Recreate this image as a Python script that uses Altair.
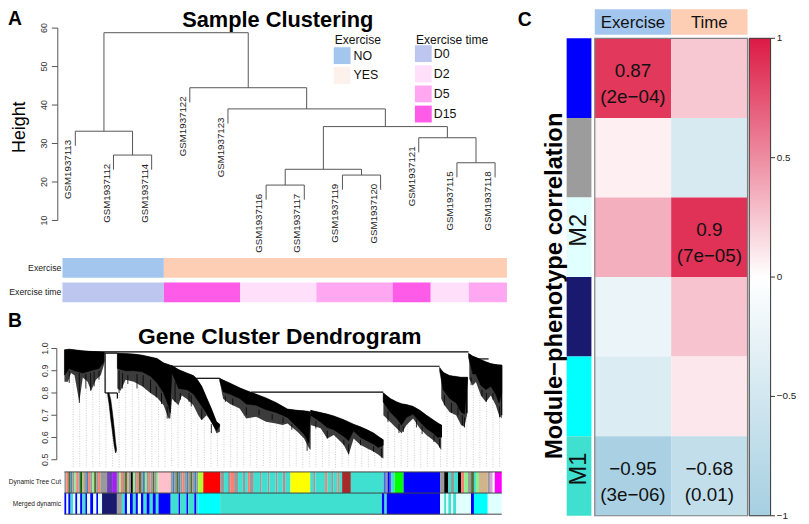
import altair as alt
import numpy as np
import pandas as pd

OFF = 8
FONT = "Liberation Sans"


def R(a, b):
    return [a - OFF, b - OFF]


def V(p):
    return alt.value(p - OFF)


# ================= Panel A : sample clustering =================
sample_names = ["GSM1937113", "GSM1937112", "GSM1937114", "GSM1937122", "GSM1937123",
                "GSM1937116", "GSM1937117", "GSM1937119", "GSM1937120", "GSM1937121",
                "GSM1937115", "GSM1937118"]
exercise = ["NO", "NO", "NO", "YES", "YES", "YES", "YES", "YES", "YES", "YES", "YES", "YES"]
exercise_time = ["D0", "D0", "D0", "D15", "D15", "D2", "D2", "D5", "D5", "D15", "D2", "D5"]
merge_left = ["L1", "L0", "L5", "L7", "M3", "L10", "L9", "M5", "L4", "L3", "M2"]
merge_right = ["L2", "M1", "L6", "L8", "M4", "L11", "M6", "M7", "M8", "M9", "M10"]
merge_height = [27.0, 33.2, 19.2, 21.8, 23.3, 25.0, 31.5, 34.4, 39.0, 44.5, 58.8]
height_ticks = [10, 20, 30, 40, 50, 60]
exercise_levels = ["NO", "YES"]
time_levels = ["D0", "D2", "D5", "D15"]

# ================= Panel B : gene cluster dendrogram =================
# dense cores (gene-order %, top height, lower edge of the dense part)
c1_x = [0.0, 1.1, 2.3, 4.2, 6.0, 7.9, 9.1]
c1_top = [0.994, 0.997, 0.994, 0.990, 0.987, 0.985, 0.983]
c1_bot = [0.88, 0.91, 0.90, 0.89, 0.90, 0.91, 0.94]
c2_x = [9.9, 10.2, 10.6, 11.0, 11.4, 11.7, 11.9]
c2_top = [0.80, 0.80, 0.77, 0.71, 0.64, 0.58, 0.55]
c2_bot = [0.79, 0.75, 0.68, 0.62, 0.56, 0.53, 0.54]
c3_x = [12.1, 14.0, 15.9, 17.8, 19.7, 21.2, 22.7, 23.8, 24.2, 24.6]
c3_top = [0.979, 0.977, 0.975, 0.970, 0.962, 0.955, 0.935, 0.928, 0.925, 0.923]
c3_bot = [0.91, 0.90, 0.90, 0.895, 0.875, 0.845, 0.80, 0.74, 0.71, 0.90]
c4_x = [24.6, 26.1, 28.0, 29.5, 30.2, 31.4, 32.5, 33.6, 34.8, 35.5]
c4_top = [0.923, 0.905, 0.890, 0.878, 0.866, 0.830, 0.780, 0.730, 0.670, 0.660]
c4_bot = [0.890, 0.820, 0.815, 0.795, 0.775, 0.740, 0.710, 0.670, 0.630, 0.650]
c5_x = [35.5, 36.3, 37.8, 40.1, 41.6, 43.8, 46.1, 48.4, 49.9, 51.0, 53.3, 54.8, 55.9, 56.3]
c5_top = [0.866, 0.858, 0.845, 0.823, 0.811, 0.795, 0.778, 0.757, 0.740, 0.728, 0.722, 0.720,
          0.717, 0.715]
c5_bot = [0.855, 0.805, 0.795, 0.775, 0.750, 0.745, 0.725, 0.712, 0.700, 0.690, 0.645, 0.615,
          0.575, 0.700]
c6_x = [56.3, 58.6, 60.1, 61.6, 63.9, 65.0, 66.1, 67.7, 69.2, 70.7, 71.8, 72.9]
c6_top = [0.722, 0.712, 0.705, 0.697, 0.680, 0.670, 0.660, 0.648, 0.635, 0.620, 0.605, 0.590]
c6_bot = [0.700, 0.670, 0.645, 0.635, 0.605, 0.585, 0.630, 0.600, 0.585, 0.570, 0.555, 0.565]
c7_x = [72.9, 74.5, 76.0, 77.1, 78.2, 79.7, 81.3, 82.8, 84.3, 85.4, 86.2]
c7_top = [0.801, 0.775, 0.760, 0.752, 0.748, 0.740, 0.722, 0.700, 0.680, 0.665, 0.656]
c7_bot = [0.760, 0.715, 0.685, 0.655, 0.690, 0.705, 0.670, 0.640, 0.620, 0.600, 0.605]
c8_x = [85.8, 86.6, 88.1, 89.6, 90.7, 91.5, 92.2]
c8_top = [0.915, 0.893, 0.878, 0.874, 0.871, 0.871, 0.871]
c8_bot = [0.900, 0.815, 0.775, 0.755, 0.715, 0.705, 0.860]
c9_x = [92.4, 93.4, 94.1, 95.2, 96.4, 97.5, 98.6, 99.4, 100.0]
c9_top = [0.979, 0.965, 0.960, 0.950, 0.940, 0.932, 0.928, 0.925, 0.923]
c9_bot = [0.960, 0.885, 0.885, 0.835, 0.815, 0.830, 0.795, 0.755, 0.800]

# hairy fringe below each cluster (gene-order %, lowest leaf height)
f1_x = [0.0, 0.8, 1.5, 2.3, 3.4, 4.2, 5.3, 6.1, 7.2, 8.3, 9.1]
f1_bot = [0.85, 0.85, 0.89, 0.88, 0.76, 0.87, 0.85, 0.81, 0.86, 0.88, 0.93]
f3_x = [12.1, 12.85, 13.98, 15.87, 17.76, 19.65, 21.17, 22.68, 23.81, 24.19, 24.57]
f3_bot = [0.82, 0.81, 0.86, 0.85, 0.83, 0.80, 0.78, 0.745, 0.685, 0.685, 0.77]
f4_x = [24.57, 25.32, 26.08, 26.83, 27.97, 29.48, 30.61, 31.37, 32.50, 33.64, 34.77, 35.53]
f4_bot = [0.774, 0.76, 0.745, 0.789, 0.774, 0.745, 0.70, 0.678, 0.70, 0.671, 0.619, 0.626]
f5_x = [35.53, 36.28, 37.79, 40.06, 41.57, 43.84, 46.11, 48.38, 49.89, 51.02, 53.29, 54.80,
        55.93, 56.31]
f5_bot = [0.85, 0.774, 0.752, 0.73, 0.685, 0.693, 0.671, 0.663, 0.656, 0.663, 0.626, 0.596,
          0.552, 0.544]
f6_x = [56.31, 58.58, 60.09, 61.60, 63.87, 65.0, 66.14, 67.65, 69.16, 70.67, 71.81, 72.94]
f6_bot = [0.656, 0.641, 0.596, 0.611, 0.567, 0.522, 0.596, 0.567, 0.552, 0.537, 0.522, 0.505]
f7_x = [72.94, 74.45, 75.96, 77.10, 78.23, 79.74, 81.25, 82.77, 84.28, 85.41, 86.17]
f7_bot = [0.70, 0.671, 0.641, 0.619, 0.656, 0.685, 0.641, 0.611, 0.589, 0.567, 0.544]
f8_x = [86.17, 86.92, 88.06, 89.57, 90.70, 91.46, 92.21]
f8_bot = [0.774, 0.745, 0.715, 0.70, 0.656, 0.648, 0.715]
f9_x = [92.59, 93.35, 94.10, 95.24, 96.37, 97.51, 98.64, 99.39, 100.0]
f9_bot = [0.863, 0.834, 0.849, 0.789, 0.76, 0.789, 0.745, 0.70, 0.685]

spike_x = [1.1, 3.4, 4.9, 6.0, 6.8, 7.9,
           12.5, 13.3, 14.5, 16.6, 18.0, 19.7, 21.0, 22.2, 23.5,
           25.3, 26.5, 28.5, 29.0, 31.4, 33.6,
           36.8, 38.5, 41.6, 44.5, 47.5, 50.0, 52.0, 55.5,
           57.5, 60.1, 63.9, 65.0, 67.7, 70.7, 72.5,
           74.0, 76.5, 77.5, 80.5, 81.8, 84.5, 85.8,
           86.9, 88.5, 90.0, 91.0, 91.5,
           93.0, 95.5, 96.5, 98.0, 99.5]
spike_top = [0.90, 0.89, 0.885, 0.89, 0.895, 0.90,
             0.90, 0.89, 0.88, 0.885, 0.88, 0.86, 0.83, 0.80, 0.74,
             0.85, 0.80, 0.80, 0.79, 0.73, 0.66,
             0.785, 0.775, 0.735, 0.725, 0.705, 0.69, 0.66, 0.59,
             0.675, 0.63, 0.59, 0.57, 0.59, 0.56, 0.55,
             0.72, 0.66, 0.65, 0.68, 0.65, 0.61, 0.595,
             0.79, 0.755, 0.735, 0.70, 0.69,
             0.87, 0.815, 0.80, 0.80, 0.74]
spike_bot = [0.845, 0.755, 0.82, 0.81, 0.83, 0.86,
             0.80, 0.82, 0.84, 0.82, 0.83, 0.80, 0.78, 0.75, 0.685,
             0.76, 0.77, 0.76, 0.74, 0.68, 0.62,
             0.76, 0.745, 0.70, 0.70, 0.68, 0.665, 0.635, 0.54,
             0.64, 0.595, 0.565, 0.525, 0.565, 0.535, 0.51,
             0.67, 0.62, 0.625, 0.645, 0.615, 0.58, 0.555,
             0.745, 0.71, 0.70, 0.655, 0.645,
             0.835, 0.785, 0.76, 0.77, 0.69]

branch_x1 = [3.0, 9.1, 9.3, 9.3, 12.1, 24.6, 30.2, 42.7, 84.3, 86.2, 92.0, 94.5, 100.0, 93.5]
branch_x2 = [92.4, 12.1, 9.3, 12.1, 12.1, 85.8, 35.5, 72.9, 86.2, 86.2, 92.0, 100.0, 100.0, 97.0]
branch_y1 = [0.985, 0.979, 0.979, 0.80, 0.80, 0.920, 0.866, 0.804, 0.655, 0.655, 0.871, 0.925,
             0.925, 0.953]
branch_y2 = [0.985, 0.979, 0.80, 0.80, 0.775, 0.920, 0.866, 0.804, 0.655, 0.60, 0.71, 0.925,
             0.70, 0.953]
b_ticks = [0.5, 0.6, 0.7, 0.8, 0.9, 1.0]

dtc_start = [0.0, 0.45, 0.9, 1.4, 1.8, 2.3, 2.7, 3.2, 3.6, 4.1, 4.5, 5.0, 5.4, 5.9, 6.4, 6.8, 7.3,
             7.7, 8.2, 9.75, 10.9, 12.0, 12.5, 12.9, 13.4, 13.8, 14.3, 14.7, 15.2, 15.65, 16.1,
             16.55, 17.0, 17.5, 17.9, 18.4, 18.8, 19.3, 19.7, 20.2, 20.6, 21.1, 21.5, 24.3, 24.7,
             25.2, 25.6, 26.1, 26.5, 27.0, 27.4, 27.9, 28.3, 28.8, 29.25, 29.7, 30.2, 30.6, 31.75,
             35.6, 36.5, 37.4, 37.9, 38.8, 39.7, 40.8, 41.3, 41.95, 42.4, 43.3, 44.7, 45.1, 46.5,
             46.9, 48.3, 48.75, 49.9, 50.6, 51.7, 56.2, 56.9, 57.4, 59.6, 60.1, 61.0, 61.45, 62.4,
             62.8, 63.5, 65.5, 73.0, 73.5, 73.9, 74.4, 74.8, 75.5, 77.55, 85.9, 86.85, 87.8, 88.4,
             89.1, 90.0, 90.7, 91.4, 92.3, 93.0, 93.65, 94.1, 94.8, 96.8, 97.3, 97.95, 98.4]
dtc_color = ["grey60", "salmon", "darkolivegreen", "steelblue", "grey60", "lightgreen", "salmon",
             "grey60", "darkgreen", "tan", "grey60", "steelblue", "salmon", "grey60", "lightgreen",
             "darkolivegreen", "grey60", "salmon", "grey60", "mediumpurple3", "purple", "grey60",
             "lightgreen", "salmon", "grey60", "darkolivegreen", "tan", "grey60", "black",
             "lightgreen", "grey60", "salmon", "darkolivegreen", "grey60", "steelblue",
             "lightgreen", "grey60", "salmon", "grey60", "darkolivegreen", "grey60", "lightgreen",
             "pink", "grey60", "steelblue", "grey60", "darkolivegreen", "steelblue", "grey60",
             "salmon", "grey60", "steelblue", "grey60", "darkolivegreen", "grey60", "steelblue",
             "grey60", "greenyellow", "red", "grey60", "turquoise", "grey60", "salmon", "grey60",
             "turquoise", "grey60", "turquoise", "salmon", "grey60", "turquoise", "grey60",
             "turquoise", "grey60", "turquoise", "grey60", "turquoise", "grey60", "turquoise",
             "yellow", "turquoise", "grey60", "turquoise", "salmon", "turquoise", "grey60",
             "turquoise", "salmon", "turquoise", "brown", "turquoise", "royalblue", "grey60",
             "blue", "royalblue", "turquoise", "green", "blue", "grey60", "black", "turquoise",
             "grey60", "turquoise", "black", "salmon", "lightgreen", "grey60", "darkolivegreen",
             "turquoise", "lightgreen", "tan", "grey60", "plum", "white", "magenta"]
merged_start = [0.0, 0.45, 0.9, 1.4, 2.0, 2.5, 2.95, 3.6, 4.1, 4.8, 5.2, 5.9, 6.6, 7.3, 7.7, 8.6,
                12.0, 13.15, 13.8, 14.3, 15.0, 15.65, 16.3, 16.8, 17.5, 18.1, 18.8, 19.5, 20.2,
                20.9, 21.5, 24.3, 26.1, 26.5, 27.9, 28.3, 29.7, 30.2, 30.6, 35.6, 72.6, 73.2, 73.7,
                85.9, 86.85, 87.3, 87.8, 88.4, 88.9, 89.6, 92.97, 93.65, 96.8]
merged_color = ["blue", "lightcyan", "blue", "turquoise", "lightcyan", "blue", "lightcyan", "blue",
                "turquoise", "blue", "lightcyan", "blue", "lightcyan", "blue", "lightcyan",
                "midnightblue", "grey", "turquoise", "blue", "lightcyan", "blue", "turquoise",
                "blue", "lightcyan", "blue", "turquoise", "blue", "turquoise", "blue", "turquoise",
                "blue", "turquoise", "blue", "turquoise", "blue", "turquoise", "blue", "turquoise",
                "cyan", "turquoise", "blue", "turquoise", "blue", "lightcyan", "turquoise",
                "lightcyan", "turquoise", "lightcyan", "turquoise", "lightcyan", "blue", "cyan",
                "lightcyan"]
bar_rows = ["Dynamic Tree Cut", "Merged dynamic"]

# ================= Panel C : module-trait heatmap =================
modules = ["blue", "grey", "lightcyan", "midnightblue", "cyan", "turquoise"]
module_tags = ["", "", "M2", "", "", "M1"]
traits = ["Exercise", "Time"]
cor_exercise = [0.87, 0.07, 0.35, -0.22, -0.40, -0.95]
cor_time = [0.24, -0.44, 0.90, 0.26, 0.10, -0.68]
p_exercise = ["2e−04", "", "", "", "", "3e−06"]
p_time = ["", "", "7e−05", "", "", "0.01"]
cb_ticks = [-1, -0.5, 0, 0.5, 1]
cb_labels = ["−1", "−0.5", "0", "0.5", "1"]

# ---------------- styles ----------------
pal_names = ["grey60", "salmon", "darkolivegreen", "steelblue", "lightgreen", "darkgreen", "tan",
             "mediumpurple3", "purple", "black", "pink", "greenyellow", "red", "turquoise",
             "yellow", "brown", "royalblue", "blue", "green", "plum", "white", "magenta",
             "lightcyan", "midnightblue", "grey", "cyan"]
pal_hex = ["#999999", "#fa8072", "#556b2f", "#4682b4", "#90ee90", "#006400", "#d2b48c",
           "#7040b8", "#a020f0", "#000000", "#ffc0cb", "#adff2f", "#ff0000", "#40e0d0",
           "#ffff00", "#a52a2a", "#4169e1", "#0000ff", "#00ff00", "#dda0dd", "#ffffff", "#ff00ff",
           "#e0ffff", "#191970", "#9c9c9c", "#00ffff"]
modpal = alt.Scale(domain=pal_names, range=pal_hex)
HANG = 3.8

layers = []


def txt(text, x, y, size, weight="normal", align="left", baseline="alphabetic", angle=0,
        color="black"):
    return alt.Chart(pd.DataFrame({"t": [text]})).mark_text(
        font=FONT, fontSize=size, fontWeight=weight, align=align, baseline=baseline,
        angle=angle, color=color).encode(text="t:N", x=V(x), y=V(y))


def runs(values):
    out, start = [], 0
    for i in range(1, len(values) + 1):
        if i == len(values) or values[i] != values[start]:
            out.append((start - 0.5, i - 0.5, values[start]))
            start = i
    return out


# ---------------- Panel A ----------------
sAx = alt.Scale(domain=[0, 11], range=R(76, 500))
sAy = alt.Scale(domain=[10, 60], range=R(220, 25.7))

pos, tops, parent = {}, {}, {}
for i in range(len(sample_names)):
    pos[f"L{i}"] = float(i)
for k, (a, b, h) in enumerate(zip(merge_left, merge_right, merge_height), start=1):
    pos[f"M{k}"] = (pos[a] + pos[b]) / 2
    tops[f"M{k}"] = h
    parent[a] = h
    parent[b] = h
for i in range(len(sample_names)):
    tops[f"L{i}"] = parent[f"L{i}"] - HANG
seg = []
for a, b, h in zip(merge_left, merge_right, merge_height):
    seg.append((pos[a], pos[b], h, h))
    seg.append((pos[a], pos[a], h, tops[a]))
    seg.append((pos[b], pos[b], h, tops[b]))
df_seg = pd.DataFrame(seg, columns=["x1", "x2", "y1", "y2"])
layers.append(alt.Chart(df_seg).mark_rule(color="#555555", strokeWidth=1).encode(
    x=alt.X("x1:Q", scale=sAx, axis=None), x2="x2:Q",
    y=alt.Y("y1:Q", scale=sAy, axis=None), y2="y2:Q"))

df_leaf = pd.DataFrame({"x": list(range(len(sample_names))),
                        "y": [tops[f"L{i}"] for i in range(len(sample_names))],
                        "name": sample_names})
layers.append(alt.Chart(df_leaf).mark_text(
    font=FONT, fontSize=9.8, angle=270, align="right", baseline="middle", dx=6, dy=-7,
    color="#222222").encode(
    x=alt.X("x:Q", scale=sAx, axis=None), y=alt.Y("y:Q", scale=sAy, axis=None), text="name:N"))

df_at = pd.DataFrame({"v": height_ticks})
layers.append(alt.Chart(pd.DataFrame({"a": [min(height_ticks)], "b": [max(height_ticks)]}))
              .mark_rule(color="#555555").encode(
    x=V(58.3), y=alt.Y("a:Q", scale=sAy, axis=None), y2="b:Q"))
layers.append(alt.Chart(df_at).mark_rule(color="#555555").encode(
    x=V(52.3), x2=V(58.3), y=alt.Y("v:Q", scale=sAy, axis=None)))
layers.append(alt.Chart(df_at).mark_text(
    font=FONT, fontSize=9, angle=270, align="center", baseline="alphabetic",
    color="#333333").encode(
    x=V(47), y=alt.Y("v:Q", scale=sAy, axis=None), text="v:Q"))
layers.append(txt("Height", 25, 125.8, 18, angle=270, align="center"))
layers.append(txt("Sample Clustering", 280.5, 24.5, 22, weight="bold", align="center"))
layers.append(txt("A", 8, 23, 19.5, weight="bold"))

# legends
sLegEx = alt.Scale(type="band", domain=exercise_levels, range=R(45, 82),
                   paddingInner=0.15, paddingOuter=0)
sLegT = alt.Scale(type="band", domain=time_levels, range=R(43, 121),
                  paddingInner=0.164, paddingOuter=0)
df_lex = pd.DataFrame({"k": exercise_levels})
df_lt = pd.DataFrame({"k": time_levels})
layers.append(alt.Chart(df_lex).mark_rect().encode(
    x=V(337), x2=V(354), y=alt.Y("k:N", scale=sLegEx, axis=None),
    color=alt.Color("k:N", scale=alt.Scale(domain=exercise_levels,
                                           range=["#a3c6ee", "#fdf1ec"]), legend=None)))
layers.append(alt.Chart(df_lex).mark_text(font=FONT, fontSize=12.5, align="left",
                                          baseline="middle", color="#111111").encode(
    x=V(357), y=alt.Y("k:N", scale=sLegEx, axis=None, bandPosition=0.5), text="k:N"))
layers.append(alt.Chart(df_lt).mark_rect().encode(
    x=V(419), x2=V(436), y=alt.Y("k:N", scale=sLegT, axis=None),
    color=alt.Color("k:N", scale=alt.Scale(domain=time_levels,
                                           range=["#bcc6ee", "#ffdff9", "#ffa8f1", "#ff5be9"]),
                    legend=None)))
layers.append(alt.Chart(df_lt).mark_text(font=FONT, fontSize=12.5, align="left",
                                         baseline="middle", color="#111111").encode(
    x=V(438), y=alt.Y("k:N", scale=sLegT, axis=None, bandPosition=0.5), text="k:N"))
layers.append(txt("Exercise", 338, 42, 12.2, color="#111111"))
layers.append(txt("Exercise time", 420, 42, 12.2, color="#111111"))

# sample colour bars (runs of equal colour, so no seams)
sAbx = alt.Scale(domain=[-0.16, 11.5], range=R(63, 512), clamp=True)
sAby = alt.Scale(type="band", domain=["Exercise", "Exercise time"], range=R(258, 302.5),
                 paddingInner=0.2, paddingOuter=0)
bar_a = [(s, e, "Exercise", c) for s, e, c in runs(exercise)]
bar_a += [(s, e, "Exercise time", c) for s, e, c in runs(exercise_time)]
df_bar_a = pd.DataFrame(bar_a, columns=["x0", "x1", "row", "cat"])
layers.append(alt.Chart(df_bar_a).mark_rect(strokeWidth=0).encode(
    x=alt.X("x0:Q", scale=sAbx, axis=None), x2="x1:Q",
    y=alt.Y("row:N", scale=sAby, axis=None),
    color=alt.Color("cat:N", scale=alt.Scale(
        domain=exercise_levels + time_levels,
        range=["#a3c6ee", "#fdceb3", "#bcc6ee", "#ffdff9", "#ffa8f1", "#ff5be9"]),
        legend=None)))
layers.append(alt.Chart(pd.DataFrame({"row": ["Exercise", "Exercise time"]})).mark_text(
    font=FONT, fontSize=8.8, align="right", baseline="middle", color="#222222").encode(
    x=V(62), y=alt.Y("row:N", scale=sAby, axis=None, bandPosition=0.5), text="row:N"))

# ---------------- Panel B ----------------
sBx = alt.Scale(domain=[0, 100], range=R(65, 506.7))
sBy = alt.Scale(domain=[0.5, 1.0], range=R(461.7, 349.3))
sBr = alt.Scale(domain=[0, 2], range=R(474, 516.7))

clusters = [(c1_x, c1_top, c1_bot), (c2_x, c2_top, c2_bot), (c3_x, c3_top, c3_bot),
            (c4_x, c4_top, c4_bot), (c5_x, c5_top, c5_bot), (c6_x, c6_top, c6_bot),
            (c7_x, c7_top, c7_bot), (c8_x, c8_top, c8_bot), (c9_x, c9_top, c9_bot)]
fringes = [(f1_x, f1_bot, 0), (f3_x, f3_bot, 2), (f4_x, f4_bot, 3), (f5_x, f5_bot, 4),
           (f6_x, f6_bot, 5), (f7_x, f7_bot, 6), (f8_x, f8_bot, 7), (f9_x, f9_bot, 8)]
area_rows = []
for ci, (xs, ts, bs) in enumerate(clusters):
    for x, t, b in zip(xs, ts, bs):
        area_rows.append((f"c{ci}", x, t, b))
df_area = pd.DataFrame(area_rows, columns=["cl", "x", "top", "bot"])
fringe_rows = []
env_x, env_y = list(c2_x), list(c2_bot)
for fi, (fx, fb, ci) in enumerate(fringes):
    cx, ct, _ = clusters[ci]
    ft = np.interp(fx, cx, ct)
    for x, t, b in zip(fx, ft, fb):
        fringe_rows.append((f"f{fi}", x, float(t), b))
        env_x.append(x)
        env_y.append(b)
df_fringe = pd.DataFrame(fringe_rows, columns=["cl", "x", "top", "bot"])
order = np.argsort(env_x, kind="stable")
guide_x = np.arange(2.0, 99.9, 1.5)
guide_top = np.interp(guide_x, np.array(env_x)[order], np.array(env_y)[order])
df_guide = pd.DataFrame({"x": guide_x, "top": guide_top, "bot": 0.465})
layers.append(alt.Chart(df_guide).mark_rule(color="#b5b5b5", strokeWidth=0.7,
                                            strokeDash=[1, 1.5]).encode(
    x=alt.X("x:Q", scale=sBx, axis=None), y=alt.Y("top:Q", scale=sBy, axis=None), y2="bot:Q"))
layers.append(alt.Chart(df_fringe).mark_area(color="#3c3c3c", interpolate="linear").encode(
    x=alt.X("x:Q", scale=sBx, axis=None), y=alt.Y("bot:Q", scale=sBy, axis=None), y2="top:Q",
    detail="cl:N"))
layers.append(alt.Chart(df_area).mark_area(color="black", stroke="black", strokeWidth=0.5,
                                           interpolate="linear").encode(
    x=alt.X("x:Q", scale=sBx, axis=None), y=alt.Y("bot:Q", scale=sBy, axis=None), y2="top:Q",
    detail="cl:N"))
df_spike = pd.DataFrame({"x": spike_x, "top": spike_top, "bot": spike_bot})
layers.append(alt.Chart(df_spike).mark_rule(color="black", strokeWidth=0.8).encode(
    x=alt.X("x:Q", scale=sBx, axis=None), y=alt.Y("bot:Q", scale=sBy, axis=None), y2="top:Q"))
df_branch = pd.DataFrame({"x1": branch_x1, "x2": branch_x2, "y1": branch_y1, "y2": branch_y2})
layers.append(alt.Chart(df_branch).mark_rule(color="black", strokeWidth=1.2).encode(
    x=alt.X("x1:Q", scale=sBx, axis=None), x2="x2:Q",
    y=alt.Y("y1:Q", scale=sBy, axis=None), y2="y2:Q"))

df_bt = pd.DataFrame({"v": b_ticks})
layers.append(alt.Chart(pd.DataFrame({"a": [min(b_ticks)], "b": [max(b_ticks)]}))
              .mark_rule(color="#555555").encode(
    x=V(57.3), y=alt.Y("a:Q", scale=sBy, axis=None), y2="b:Q"))
layers.append(alt.Chart(df_bt).mark_rule(color="#555555").encode(
    x=V(51.8), x2=V(57.3), y=alt.Y("v:Q", scale=sBy, axis=None)))
layers.append(alt.Chart(df_bt).mark_text(
    font=FONT, fontSize=9, angle=270, align="center", baseline="alphabetic",
    color="#333333").encode(
    x=V(48.3), y=alt.Y("v:Q", scale=sBy, axis=None), text=alt.Text("v:Q", format=".1f")))
layers.append(txt("Gene Cluster Dendrogram", 282.5, 344.5, 23, weight="bold", align="center"))
layers.append(txt("B", 8, 328, 19.5, weight="bold"))

stripe_rows = []
for s, e, c in zip(dtc_start, dtc_start[1:] + [100.0], dtc_color):
    stripe_rows.append((s, e, 0, 1, c))
for s, e, c in zip(merged_start, merged_start[1:] + [100.0], merged_color):
    stripe_rows.append((s, e, 1, 2, c))
df_stripes = pd.DataFrame(stripe_rows, columns=["x0", "x1", "r0", "r1", "c"])
layers.append(alt.Chart(df_stripes).mark_rect(strokeWidth=0).encode(
    x=alt.X("x0:Q", scale=sBx, axis=None), x2="x1:Q",
    y=alt.Y("r0:Q", scale=sBr, axis=None), y2="r1:Q",
    color=alt.Color("c:N", scale=modpal, legend=None)))
layers.append(alt.Chart(pd.DataFrame({"r": [0, 1, 2], "a": 0.0, "b": 100.0})).mark_rule(
    color="#444444", strokeWidth=1).encode(
    x=alt.X("a:Q", scale=sBx, axis=None), x2="b:Q", y=alt.Y("r:Q", scale=sBr, axis=None)))
layers.append(alt.Chart(pd.DataFrame({"r": [0.5, 1.5], "t": bar_rows})).mark_text(
    font=FONT, fontSize=6.6, align="right", baseline="middle", color="#222222").encode(
    x=V(61.5), y=alt.Y("r:Q", scale=sBr, axis=None), text="t:N"))

# ---------------- Panel C ----------------
sCx = alt.Scale(domain=[0, 2], range=R(600.7, 755))
sCy = alt.Scale(domain=[0, 6], range=R(36, 518.3))
sCB = alt.Scale(domain=[-1, 1], range=R(518.3, 36))
heat_scale = alt.Scale(domain=[-1, 0, 1], range=["#a5cfe1", "#ffffff", "#dc1a44"],
                       interpolate="rgb")


def cell_label(v, p):
    return f"{v:g}".replace("-", "−") + f"\n({p})" if p else ""


cells = []
for j, m in enumerate(modules):
    cells.append((0, j, cor_exercise[j], cell_label(cor_exercise[j], p_exercise[j])))
    cells.append((1, j, cor_time[j], cell_label(cor_time[j], p_time[j])))
df_cells = pd.DataFrame(cells, columns=["c", "r", "v", "lab"])
df_cells["c1"] = df_cells["c"] + 1
df_cells["r1"] = df_cells["r"] + 1
df_cells["cm"] = df_cells["c"] + 0.5
df_cells["rm"] = df_cells["r"] + 0.5
layers.append(alt.Chart(df_cells).mark_rect(strokeWidth=0).encode(
    x=alt.X("c:Q", scale=sCx, axis=None), x2="c1:Q",
    y=alt.Y("r:Q", scale=sCy, axis=None), y2="r1:Q",
    color=alt.Color("v:Q", scale=heat_scale, legend=None)))
layers.append(alt.Chart(df_cells).mark_text(
    font=FONT, fontSize=19, align="center", baseline="alphabetic", lineBreak="\n",
    lineHeight=26, dy=-1, color="#111111").encode(
    x=alt.X("cm:Q", scale=sCx, axis=None), y=alt.Y("rm:Q", scale=sCy, axis=None),
    text="lab:N"))
layers.append(alt.Chart(pd.DataFrame({"a": [0], "b": [2], "c": [0], "d": [6]})).mark_rect(
    fillOpacity=0, stroke="#808080", strokeWidth=1.2).encode(
    x=alt.X("a:Q", scale=sCx, axis=None), x2="b:Q",
    y=alt.Y("c:Q", scale=sCy, axis=None), y2="d:Q"))

df_head = pd.DataFrame({"c": [0, 1], "c1": [1, 2], "cm": [0.5, 1.5], "t": traits})
layers.append(alt.Chart(df_head).mark_rect().encode(
    x=alt.X("c:Q", scale=sCx, axis=None), x2="c1:Q", y=V(6.7), y2=V(32.3),
    color=alt.Color("t:N", scale=alt.Scale(domain=traits, range=["#a3c6ee", "#fdceb3"]),
                    legend=None)))
layers.append(alt.Chart(df_head).mark_text(
    font=FONT, fontSize=17, align="center", baseline="alphabetic", color="#111111").encode(
    x=alt.X("cm:Q", scale=sCx, axis=None), y=V(26), text="t:N"))

df_mod = pd.DataFrame({"r": list(range(len(modules))), "m": modules, "tag": module_tags})
df_mod["r1"] = df_mod["r"] + 1
df_mod["rm"] = df_mod["r"] + 0.5
layers.append(alt.Chart(df_mod).mark_rect().encode(
    x=V(572.3), x2=V(597.3), y=alt.Y("r:Q", scale=sCy, axis=None), y2="r1:Q",
    color=alt.Color("m:N", scale=modpal, legend=None)))
layers.append(alt.Chart(df_mod).mark_text(
    font=FONT, fontSize=24, angle=270, align="center", baseline="middle", dx=7,
    color="#111111").encode(
    x=V(585), y=alt.Y("rm:Q", scale=sCy, axis=None), text="tag:N"))
layers.append(txt("Module−phenotype correlation", 568, 286, 24, weight="bold", angle=270,
                  align="center"))
layers.append(txt("C", 523, 24, 19.5, weight="bold"))

grad = alt.LinearGradient(gradient="linear", x1=0, x2=0, y1=1, y2=0, stops=[
    alt.GradientStop(color="#a5cfe1", offset=0),
    alt.GradientStop(color="#ffffff", offset=0.5),
    alt.GradientStop(color="#dc1a44", offset=1)])
layers.append(alt.Chart(pd.DataFrame({"a": [-1], "b": [1]})).mark_rect(
    color=grad, stroke="#333333", strokeWidth=1).encode(
    x=V(756.7), x2=V(778.3), y=alt.Y("a:Q", scale=sCB, axis=None), y2="b:Q"))
df_cb = pd.DataFrame({"v": cb_ticks, "t": cb_labels})
layers.append(alt.Chart(df_cb).mark_rule(color="#333333").encode(
    x=V(778.3), x2=V(782.7), y=alt.Y("v:Q", scale=sCB, axis=None)))
layers.append(alt.Chart(df_cb).mark_text(
    font=FONT, fontSize=10, align="left", baseline="middle", color="#222222").encode(
    x=V(784.5), y=alt.Y("v:Q", scale=sCB, axis=None), text="t:N"))

chart = alt.layer(*layers).resolve_scale(
    x="independent", y="independent", color="independent"
).properties(
    width=801, height=516, padding=0, autosize=alt.AutoSizeParams(type="none")
).configure_view(strokeWidth=0)

chart.save("out.html", embed_options={"renderer": "svg", "actions": False})
